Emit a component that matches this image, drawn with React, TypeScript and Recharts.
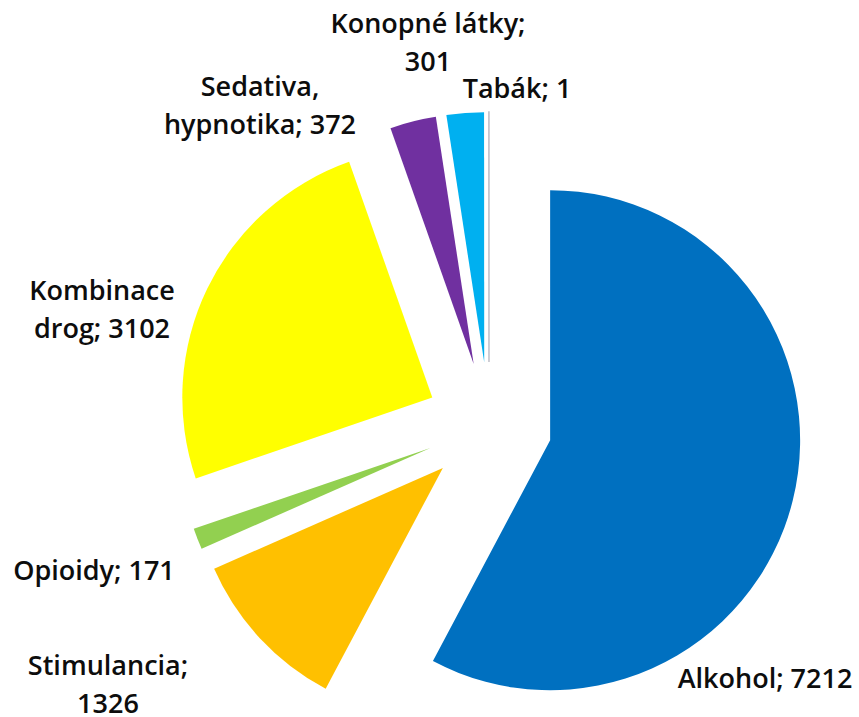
import { PieChart, Pie, Cell, Sector } from "recharts";

// Exploded pie, clockwise from 12 o'clock, labels placed like Excel's best fit.
const categories = [
  "Alkohol",
  "Stimulancia",
  "Opioidy",
  "Kombinace drog",
  "Sedativa, hypnotika",
  "Konopné látky",
  "Tabák",
];
const values = [7212, 1326, 171, 3102, 372, 301, 1];
const colors = ["#0070C0", "#FFC000", "#92D050", "#FFFF00", "#7030A0", "#00B0F0", "#BFBFC8"];

// where each label wraps: "value" = before the number, a word = after that word
const labelBreaks = [null, "value", null, "Kombinace", "Sedativa,", "value", null];
// label anchor (first baseline, centred) relative to the pie centre
const labelOffsets = [
  [276, 263],
  [-381, 250],
  [-395, 155],
  [-387, -125],
  [-229, -329],
  [-61, -392],
  [28, -327],
];

const data = categories.map((name, i) => ({ name, value: values[i] }));

const EXPLODE = 63;
const LINE_H = 38;

const renderSlice = (props: any) => {
  const { cx, cy, midAngle } = props;
  const rad = (-midAngle * Math.PI) / 180;
  return (
    <Sector
      {...props}
      cx={cx + Math.cos(rad) * EXPLODE}
      cy={cy + Math.sin(rad) * EXPLODE}
    />
  );
};

const splitLabel = (i: number) => {
  const name = categories[i];
  const v = String(values[i]);
  const brk = labelBreaks[i];
  if (!brk) return [`${name}; ${v}`];
  if (brk === "value") return [`${name};`, v];
  const rest = name.slice(brk.length).trim();
  return [brk, `${rest}; ${v}`];
};

const renderLabel = (props: any) => {
  const { cx, cy, index } = props;
  const [ox, oy] = labelOffsets[index];
  const lines = splitLabel(index);
  return (
    <text
      x={cx + ox}
      y={cy + oy}
      textAnchor="middle"
      fill="#0D0D0D"
      fontFamily="'Open Sans', 'Noto Sans', sans-serif"
      fontWeight={600}
      fontSize={27}
    >
      {lines.map((l, k) => (
        <tspan key={k} x={cx + ox} dy={k === 0 ? 0 : LINE_H}>
          {l}
        </tspan>
      ))}
    </text>
  );
};

export default function App() {
  return (
    <div style={{ position: "absolute", left: 0, top: 0, width: 859, height: 717, background: "#fff" }}>
      <PieChart width={859} height={717} margin={{ top: 0, right: 0, bottom: 0, left: 0 }}>
        <Pie
          data={data}
          dataKey="value"
          nameKey="name"
          cx={489}
          cy={425}
          outerRadius={250}
          startAngle={90}
          endAngle={-270}
          shape={renderSlice}
          label={renderLabel}
          labelLine={false}
          isAnimationActive={false}
        >
          {data.map((d, i) => (
            <Cell
              key={d.name}
              fill={colors[i]}
              stroke={i === 6 ? colors[i] : "none"}
              strokeWidth={i === 6 ? 1.5 : 0}
            />
          ))}
        </Pie>
      </PieChart>
    </div>
  );
}
